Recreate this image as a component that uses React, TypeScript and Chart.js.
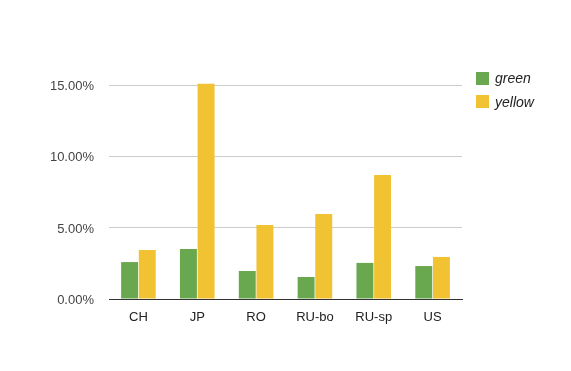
import React, { useEffect, useRef } from "react";
import { Chart, registerables } from "chart.js";

Chart.register(...registerables);

const categories = ["CH", "JP", "RO", "RU-bo", "RU-sp", "US"];
const greenValues = [2.6, 3.52, 1.97, 1.55, 2.54, 2.32];
const yellowValues = [3.45, 15.14, 5.21, 5.99, 8.73, 2.96];
const yTickValues = [0, 5, 10, 15];
const seriesNames = ["green", "yellow"];
const seriesColors = ["#6aa84f", "#f1c232"];

const FONT = "Arial, 'Liberation Sans', sans-serif";

export default function App() {
  const ref = useRef<HTMLCanvasElement | null>(null);

  useEffect(() => {
    if (!ref.current) return;
    const chart = new Chart(ref.current, {
      type: "bar",
      data: {
        labels: categories,
        datasets: [
          {
            label: seriesNames[0],
            data: greenValues,
            backgroundColor: seriesColors[0],
            categoryPercentage: 0.6,
            barPercentage: 0.96,
          },
          {
            label: seriesNames[1],
            data: yellowValues,
            backgroundColor: seriesColors[1],
            categoryPercentage: 0.6,
            barPercentage: 0.96,
          },
        ],
      },
      options: {
        animation: false,
        responsive: false,
        maintainAspectRatio: false,
        layout: { padding: { top: 83, right: 109, left: 0, bottom: 0 } },
        plugins: {
          legend: { display: false },
          tooltip: { enabled: false },
        },
        scales: {
          x: {
            grid: { display: false, drawTicks: false },
            border: { display: true, color: "#333333", width: 1 },
            ticks: {
              color: "#222222",
              font: { family: FONT, size: 13 },
              padding: 11,
            },
            afterFit: (scale: any) => {
              scale.height = 72;
            },
          },
          y: {
            min: 0,
            max: 15.2,
            grid: {
              color: (ctx: any) => (ctx.tick && ctx.tick.value === 0 ? "rgba(0,0,0,0)" : "#cccccc"),
              drawTicks: false,
              lineWidth: 1,
            },
            border: { display: false },
            ticks: {
              color: "#444444",
              font: { family: FONT, size: 13 },
              padding: 15,
              labelOffset: 1,
              callback: (v: any) => Number(v).toFixed(2) + "%",
            },
            afterBuildTicks: (scale: any) => {
              scale.ticks = yTickValues.map((v) => ({ value: v }));
            },
            afterFit: (scale: any) => {
              scale.width = 109;
            },
          },
        },
      },
    });
    return () => chart.destroy();
  }, []);

  return (
    <div style={{ position: "fixed", left: 0, top: 0, width: 571, height: 371, background: "#fff" }}>
      <canvas ref={ref} width={571} height={371} style={{ display: "block" }} />
      {seriesNames.map((name, i) => (
        <div
          key={name}
          style={{
            position: "absolute",
            left: 476,
            top: 71 + i * 23.5,
            height: 14,
            display: "flex",
            alignItems: "center",
            fontFamily: FONT,
            fontSize: 14,
            fontStyle: "italic",
            color: "#222222",
          }}
        >
          <span style={{ display: "inline-block", width: 13, height: 13, background: seriesColors[i], marginRight: 6 }} />
          <span>{name}</span>
        </div>
      ))}
    </div>
  );
}
